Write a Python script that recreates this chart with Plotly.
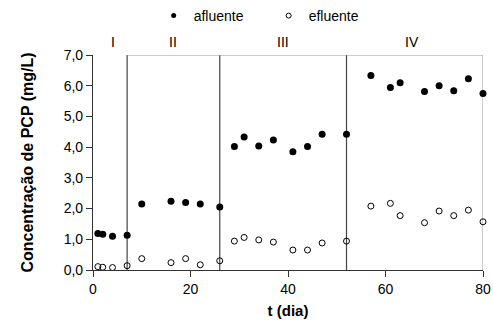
import plotly.graph_objects as go

dias = [1, 2, 4, 7, 10, 16, 19, 22, 26, 29, 31, 34, 37, 41, 44, 47, 52, 57, 61, 63, 68, 71, 74, 77, 80]
afluente = [1.19, 1.16, 1.10, 1.13, 2.15, 2.24, 2.20, 2.15, 2.05, 4.02, 4.33, 4.04, 4.23,
            3.85, 4.02, 4.42, 4.42, 6.33, 5.94, 6.10, 5.81, 6.00, 5.84, 6.23, 5.75]
efluente = [0.11, 0.09, 0.08, 0.14, 0.37, 0.24, 0.37, 0.17, 0.30, 0.94, 1.06, 0.98, 0.91,
            0.65, 0.65, 0.88, 0.94, 2.08, 2.17, 1.77, 1.54, 1.92, 1.77, 1.95, 1.57]
phase_bounds = [7, 26, 52]
phase_labels = ["I", "II", "III", "IV"]
phase_centers = [4, 16.5, 39, 65.5]
y_ticks = [0, 1, 2, 3, 4, 5, 6, 7]
x_ticks = [0, 20, 40, 60, 80]

font = "Liberation Sans, Arial, sans-serif"
fig = go.Figure()
fig.add_trace(go.Scatter(x=dias, y=afluente, mode="markers", name="afluente", showlegend=False,
                         marker=dict(symbol="circle", size=7, color="black"),
                         cliponaxis=False))
fig.add_trace(go.Scatter(x=dias, y=efluente, mode="markers", name="efluente", showlegend=False,
                         marker=dict(symbol="circle-open", size=6, color="black",
                                     line=dict(width=1, color="black")),
                         cliponaxis=False))
# legend entries (small symbols, as in the original)
fig.add_trace(go.Scatter(x=[None], y=[None], mode="markers", name="afluente",
                         marker=dict(symbol="circle", size=5, color="black")))
fig.add_trace(go.Scatter(x=[None], y=[None], mode="markers", name="efluente",
                         marker=dict(symbol="circle-open", size=5, color="black",
                                     line=dict(width=1, color="black"))))

shapes = []
for b in phase_bounds:
    shapes.append(dict(type="line", xref="x", yref="y", x0=b, x1=b, y0=0, y1=7,
                       line=dict(color="#444444", width=1.2), layer="below"))
shapes.append(dict(type="line", xref="x", yref="y", x0=phase_bounds[0], x1=80, y0=7, y1=7,
                   line=dict(color="#999999", width=1), layer="below"))
shapes.append(dict(type="line", xref="x", yref="y", x0=80, x1=80, y0=0, y1=7,
                   line=dict(color="#999999", width=1), layer="below"))

annotations = [dict(x=c, y=1.0, xref="x", yref="paper", text=t, showarrow=False,
                    yanchor="bottom", yshift=3, font=dict(size=14, family=font, color="#000000"))
               for c, t in zip(phase_centers, phase_labels)]

fig.update_layout(
    width=493, height=320,
    margin=dict(l=93, r=10, t=55, b=50, autoexpand=False),
    paper_bgcolor="white", plot_bgcolor="white",
    separators=",.",
    font=dict(family=font, size=14, color="black"),
    showlegend=True,
    legend=dict(orientation="h", x=0.545, xanchor="center", xref="container",
                y=1.0, yanchor="top", yref="container", font=dict(size=14),
                entrywidth=70, entrywidthmode="pixels",
                itemwidth=30, tracegroupgap=0, bgcolor="rgba(0,0,0,0)"),
    shapes=shapes,
    annotations=annotations,
    xaxis=dict(range=[0, 80], tickvals=x_ticks, showgrid=False, zeroline=False,
               automargin=False,
               showline=True, linecolor="#333333", linewidth=1.2,
               ticks="outside", ticklen=6, tickcolor="#333333",
               title=dict(text="<b>t (dia)</b>", font=dict(size=15), standoff=9),
               tickfont=dict(size=14)),
    yaxis=dict(range=[0, 7], tickvals=y_ticks, tickformat=".1f", showgrid=False,
               automargin=False,
               zeroline=False, showline=True, linecolor="#333333", linewidth=1.2,
               ticks="outside", ticklen=6, tickcolor="#333333",
               title=dict(text="<b>Concentração de PCP (mg/L)</b>", font=dict(size=16), standoff=26),
               tickfont=dict(size=14)),
)
fig.write_html("out.html", config={"displayModeBar": False},
               post_script="document.body.style.margin='0';")
